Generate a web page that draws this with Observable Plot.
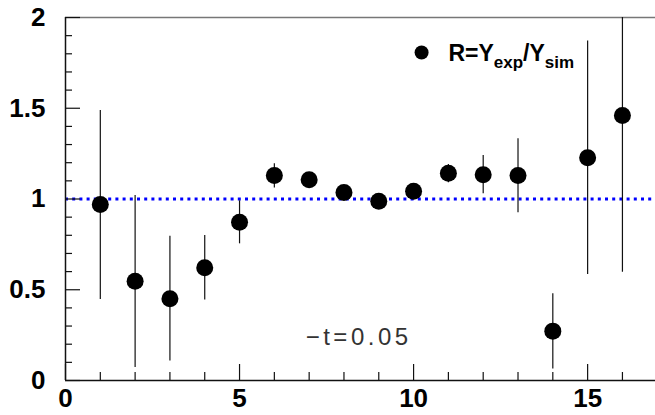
<!DOCTYPE html>
<html>
<head>
<meta charset="utf-8">
<script src="https://cdn.jsdelivr.net/npm/d3@7"></script>
<script src="https://cdn.jsdelivr.net/npm/@observablehq/plot@0.6"></script>
<style>
  html, body { margin: 0; padding: 0; background: #fff; }
  #chart svg { display: block; }
</style>
</head>
<body>
<div id="chart"></div>
<script>
// Bin index
const bins = [1, 2, 3, 4, 5, 6, 7, 8, 9, 10, 11, 12, 13, 14, 15, 16];
// Ratio R = Yexp / Ysim
const ratio = [0.970, 0.547, 0.450, 0.621, 0.872, 1.130, 1.106, 1.036, 0.988, 1.043, 1.142, 1.133, 1.129, 0.272, 1.227, 1.460];
// Error bar lower / upper ends
const errLow  = [0.446, 0.072, 0.107, 0.444, 0.753, 1.061, 1.085, 1.015, 0.968, 1.022, 1.089, 1.029, 0.924, 0.064, 0.584, 0.597];
const errHigh = [1.488, 1.019, 0.795, 0.799, 0.990, 1.194, 1.127, 1.057, 1.008, 1.064, 1.190, 1.240, 1.332, 0.478, 1.870, 2.350];
// Axis ticks
const xMajorTicks = [0, 5, 10, 15];
const xMinorTicks = [1, 2, 3, 4, 6, 7, 8, 9, 11, 12, 13, 14, 16];
const yMajorTicks = [0, 0.5, 1, 1.5, 2];
const yMinorTicks = [0.1, 0.2, 0.3, 0.4, 0.6, 0.7, 0.8, 0.9, 1.1, 1.2, 1.3, 1.4, 1.6, 1.7, 1.8, 1.9];
// Reference line and annotations
const refLine = [1];
const legendLabel = "R=Y_exp/Y_sim";
const annotation = "\u2212t=0.05";

const data = bins.map((b, i) => ({ x: b, r: ratio[i], lo: errLow[i], hi: errHigh[i] }));

const font = "'Liberation Sans', Arial, Helvetica, sans-serif";
const W = 655, H = 415, ML = 65, MR = 0, MT = 17, MB = 35;
const frameW = W - ML - MR, frameH = H - MT - MB;
const xDomain = [0, 16.95], yDomain = [0, 2];
// pixel tick lengths converted to data units
const px2y = p => p * (yDomain[1] - yDomain[0]) / frameH;
const px2x = p => p * (xDomain[1] - xDomain[0]) / frameW;

const chart = Plot.plot({
  width: W,
  height: H,
  marginLeft: ML,
  marginRight: MR,
  marginTop: MT,
  marginBottom: MB,
  style: { fontFamily: font, background: "#fff" },
  x: { domain: xDomain, label: null },
  y: { domain: yDomain, label: null },
  marks: [
    // top frame line
    Plot.ruleY([2], { stroke: "#777", strokeWidth: 1.3 }),
    // reference line at 1
    Plot.ruleY(refLine, { stroke: "#0000ff", strokeWidth: 3, strokeDasharray: "3,4.2" }),
    // error bars
    Plot.ruleX(data, { x: "x", y1: "lo", y2: "hi", stroke: "#111", strokeWidth: 1.2, clip: true }),
    // points
    Plot.dot(data, { x: "x", y: "r", r: 8.5, fill: "#000", stroke: "none" }),
    // x axis ticks (inward)
    Plot.ruleX(xMinorTicks, { x: d => d, y1: 0, y2: px2y(8), stroke: "#111", strokeWidth: 1.2 }),
    Plot.ruleX(xMajorTicks, { x: d => d, y1: 0, y2: px2y(16), stroke: "#111", strokeWidth: 1.2 }),
    Plot.axisX({ ticks: xMajorTicks, tickSize: 0, tickPadding: 8, fontSize: 26, fontWeight: "bold", fill: "#000", label: null }),
    // y axis ticks (inward)
    Plot.ruleY(yMinorTicks, { y: d => d, x1: 0, x2: px2x(7), stroke: "#111", strokeWidth: 1.2 }),
    Plot.ruleY(yMajorTicks, { y: d => d, x1: 0, x2: px2x(15), stroke: "#111", strokeWidth: 1.2 }),
    Plot.axisY({ ticks: yMajorTicks, tickSize: 0, tickPadding: 20, fontSize: 26, fontWeight: "bold", fill: "#000", tickFormat: d => String(d), label: null }),
    // axis lines
    Plot.ruleX([0], { stroke: "#111", strokeWidth: 1.5 }),
    Plot.ruleY([0], { stroke: "#111", strokeWidth: 1.5 }),
    // legend
    Plot.dot([{ x: 10.23, y: 1.807 }], { x: "x", y: "y", r: 7, fill: "#000" }),
    Plot.text([{ x: 11.0, y: 1.76, t: legendLabel }], { x: "x", y: "y", text: "t", textAnchor: "start", lineAnchor: "bottom", fontSize: 23, fontWeight: "bold", fill: "#000", className: "legend-text" }),
    // annotation
    Plot.text([{ x: 6.9, y: 0.195, t: annotation }], { x: "x", y: "y", text: "t", textAnchor: "start", lineAnchor: "bottom", fontSize: 24, fill: "#333", className: "annot-text" })
  ]
});

// Build subscripts in the legend text
d3.select(chart).selectAll(".legend-text text").each(function () {
  const el = d3.select(this);
  const parts = el.text().split(/(_[a-z]+)/).filter(p => p);
  el.text(null);
  let lowered = false;
  parts.forEach(p => {
    if (p.startsWith("_")) {
      el.append("tspan").attr("dy", 7).attr("font-size", 17).text(p.slice(1));
      lowered = true;
    } else {
      const t = el.append("tspan").text(p);
      if (lowered) { t.attr("dy", -7); lowered = false; }
    }
  });
});
d3.select(chart).selectAll(".annot-text text").attr("letter-spacing", "3.5px").attr("font-weight", "300");

document.getElementById("chart").appendChild(chart);
</script>
</body>
</html>
